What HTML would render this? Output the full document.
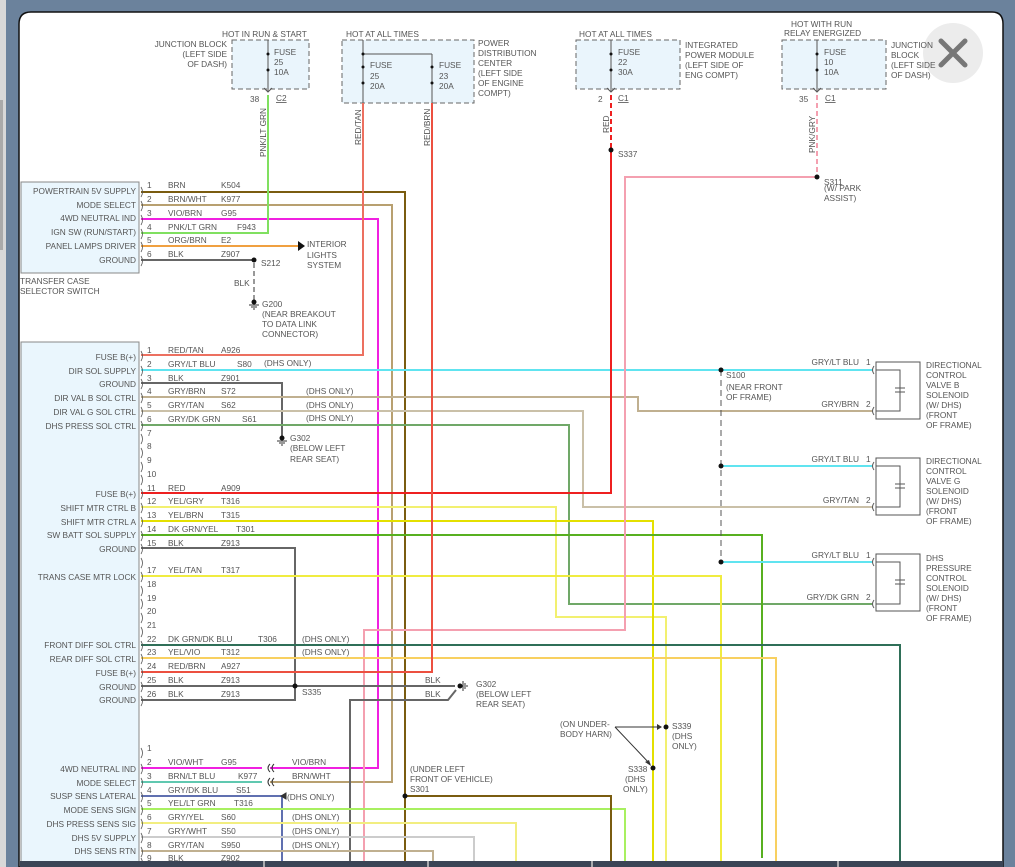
<!DOCTYPE html>
<html><head><meta charset="utf-8"><style>
html,body{margin:0;padding:0;width:1015px;height:867px;overflow:hidden;background:#6b829c}
svg{display:block}
text{font-family:"Liberation Sans",sans-serif;font-size:8.3px;fill:#555}
.w{fill:none;stroke-width:2}
</style></head><body>
<svg width="1015" height="867" viewBox="0 0 1015 867">
<rect x="0" y="0" width="1015" height="867" fill="#6b829c"/>
<rect x="0" y="0" width="6" height="867" fill="#d8d8d8"/>
<rect x="0" y="100" width="3" height="150" fill="#aaa"/>
<path d="M19 867 V24 Q19 12 31 12 H992 Q1003 12 1003 24 V867 Z" fill="#fff" stroke="#111" stroke-width="1.5"/>
<circle cx="953" cy="53" r="30" fill="#ececec"/>
<path d="M941 41 L965 65 M965 41 L941 65" stroke="#777" stroke-width="5" stroke-linecap="round"/>

<!-- fuse boxes -->
<g fill="#eaf5fc" stroke="#666" stroke-dasharray="5,3" stroke-width="1">
<rect x="232" y="40" width="77" height="49"/>
<rect x="342" y="40" width="132" height="63"/>
<rect x="576" y="40" width="104" height="49"/>
<rect x="782" y="40" width="104" height="49"/>
</g>
<g stroke="#555" fill="none" stroke-width="1">
<path d="M268 40 V92 M363 40 V103 M432 54 V103 M363 54 H432 M611 40 V92 M817 40 V92"/>
<path d="M264 88 l4 4 4-4 M607 88 l4 4 4-4 M813 88 l4 4 4-4"/>
</g>
<g fill="#111"><circle cx="268" cy="54" r="1.5"/><circle cx="268" cy="70" r="1.5"/><circle cx="363" cy="54" r="1.5"/><circle cx="363" cy="67" r="1.5"/><circle cx="363" cy="83" r="1.5"/><circle cx="432" cy="67" r="1.5"/><circle cx="432" cy="83" r="1.5"/><circle cx="611" cy="54" r="1.5"/><circle cx="611" cy="70" r="1.5"/><circle cx="817" cy="54" r="1.5"/><circle cx="817" cy="70" r="1.5"/></g>
<text x="222" y="37">HOT IN RUN &amp; START</text>
<text x="227" y="47" text-anchor="end">JUNCTION BLOCK</text><text x="227" y="57" text-anchor="end">(LEFT SIDE</text><text x="227" y="67" text-anchor="end">OF DASH)</text>
<text x="274" y="55">FUSE</text><text x="274" y="65">25</text><text x="274" y="75">10A</text>
<text x="250" y="102">38</text><text x="276" y="101" text-decoration="underline">C2</text>
<text x="346" y="37">HOT AT ALL TIMES</text>
<text x="370" y="68">FUSE</text><text x="370" y="79">25</text><text x="370" y="89">20A</text>
<text x="439" y="68">FUSE</text><text x="439" y="79">23</text><text x="439" y="89">20A</text>
<text x="478" y="46">POWER</text><text x="478" y="56">DISTRIBUTION</text><text x="478" y="66">CENTER</text><text x="478" y="76">(LEFT SIDE</text><text x="478" y="86">OF ENGINE</text><text x="478" y="96">COMPT)</text>
<text x="579" y="37">HOT AT ALL TIMES</text>
<text x="618" y="55">FUSE</text><text x="618" y="65">22</text><text x="618" y="75">30A</text>
<text x="685" y="48">INTEGRATED</text><text x="685" y="58">POWER MODULE</text><text x="685" y="68">(LEFT SIDE OF</text><text x="685" y="78">ENG COMPT)</text>
<text x="598" y="102">2</text><text x="618" y="101" text-decoration="underline">C1</text>
<text x="791" y="27">HOT WITH RUN</text><text x="784" y="36">RELAY ENERGIZED</text>
<text x="824" y="55">FUSE</text><text x="824" y="65">10</text><text x="824" y="75">10A</text>
<text x="891" y="48">JUNCTION</text><text x="891" y="58">BLOCK</text><text x="891" y="68">(LEFT SIDE</text><text x="891" y="78">OF DASH)</text>
<text x="799" y="102">35</text><text x="825" y="101" text-decoration="underline">C1</text>
<text transform="translate(266,157) rotate(-90)">PNK/LT GRN</text>
<text transform="translate(361,145) rotate(-90)">RED/TAN</text>
<text transform="translate(430,146) rotate(-90)">RED/BRN</text>
<text transform="translate(609,133) rotate(-90)">RED</text>
<text transform="translate(815,153) rotate(-90)">PNK/GRY</text>

<!-- connector boxes -->
<rect x="21" y="182" width="118" height="91" fill="#eaf6fd" stroke="#888"/>
<rect x="21" y="342" width="118" height="530" fill="#eaf6fd" stroke="#888"/>

<!-- wires -->
<g class="w">
<path d="M611 95 V150" stroke="#ee2020" stroke-dasharray="5,3"/>
<path d="M817 95 V177" stroke="#f4a0b0" stroke-dasharray="5,3"/>
<path d="M141 192 H405 V867" stroke="#7a5c10"/>
<path d="M141 205 H392 V782 H270" stroke="#b8a070"/>
<path d="M141 219 H378 V768 H270" stroke="#f020e0"/>
<path d="M141 233 H268 V95" stroke="#80e060"/>
<path d="M141 246 H298" stroke="#f0a040"/>
<path d="M141 260 H253" stroke="#666"/>
<path d="M141 355 H363 V103" stroke="#ec7060"/>
<path d="M141 370 H872" stroke="#60e4f0"/>
<path d="M141 383 H282 V437" stroke="#666"/>
<path d="M141 397 H638 V411 H872" stroke="#c0b090"/>
<path d="M141 411 H583 V507 H872" stroke="#cac0a8"/>
<path d="M141 425 H569 V604 H872" stroke="#70a868"/>
<path d="M141 493 H611 V150" stroke="#ee2020"/>
<path d="M141 507 H556 V617 H666 V867" stroke="#f2f070"/>
<path d="M141 521 H653 V867" stroke="#e4e000"/>
<path d="M141 535 H762 V858" stroke="#58b020"/>
<path d="M141 548 H295 V700 H141" stroke="#666"/>
<path d="M141 576 H721 V867" stroke="#f0ec40"/>
<path d="M817 177 H625 V630 H364 V867" stroke="#f4a0b0"/>
<path d="M141 645 H900 V867" stroke="#2f6f58"/>
<path d="M141 658 H776 V867" stroke="#f8d060"/>
<path d="M141 672 H432 V103" stroke="#ec5040"/>
<path d="M141 686 H455" stroke="#666"/>
<path d="M350 867 V700 H448 L456 690" stroke="#666"/>
<path d="M721 466 H872 M721 562 H872" stroke="#60e4f0"/>
<path d="M141 768 H262" stroke="#f020e0"/>
<path d="M141 782 H262" stroke="#60c8b0"/>
<path d="M141 796 H282 V867" stroke="#6070b0"/>
<path d="M141 809 H625 V867" stroke="#a8f060"/>
<path d="M141 823 H516 V867" stroke="#f2ee80"/>
<path d="M141 837 H474 V867" stroke="#cccccc"/>
<path d="M141 851 H433 V867" stroke="#c0b090"/>
<path d="M141 862 H220" stroke="#666"/>
<path d="M405 796 H611 V867" stroke="#7a5c10"/>
</g>
<path d="M254 263 V300" stroke="#333" stroke-dasharray="5,3" fill="none"/>
<path d="M721 370 V562" stroke="#555" stroke-dasharray="6,4" fill="none"/>
<path d="M298 241 L305 246 298 251Z" fill="#111"/>
<g fill="#111">
<circle cx="254" cy="260" r="2.5"/><circle cx="611" cy="150" r="2.5"/><circle cx="817" cy="177" r="2.5"/>
<circle cx="721" cy="370" r="2.5"/><circle cx="721" cy="466" r="2.5"/><circle cx="721" cy="562" r="2.5"/>
<circle cx="295" cy="686" r="2.5"/><circle cx="405" cy="796" r="2.5"/><circle cx="666" cy="727" r="2.5"/><circle cx="653" cy="768" r="2.5"/>
<circle cx="254" cy="302" r="2.5"/><circle cx="282" cy="438" r="2.5"/><circle cx="460" cy="686" r="2.5"/>
</g>
<g stroke="#333" fill="none">
<path d="M249 305 H259 M251 307 H257 M253 309 H255"/>
<path d="M277 441 H287 M279 443 H285 M281 445 H283"/>
<path d="M463 681 V691 M465 683 V689 M467 685 V687"/>
<path d="M615 727 H661 M615 727 L650 764"/>
<path d="M281 796 l5 -3 v6z" fill="#333"/>
<path d="M270 764 q-4 4 0 8 M274 764 q-4 4 0 8 M270 778 q-4 4 0 8 M274 778 q-4 4 0 8"/>
</g>
<path d="M657 724 l5 3 -5 3z M645 762 l6 4 -2 -6z" fill="#333"/>

<!-- solenoids -->
<g stroke="#555" fill="none">
<rect x="876" y="362" width="44" height="57"/><rect x="876" y="458" width="44" height="57"/><rect x="876" y="554" width="44" height="57"/>
<path d="M876 370 H900 V411 H876 M895 388 H905 M895 392 H905"/>
<path d="M876 466 H900 V507 H876 M895 484 H905 M895 488 H905"/>
<path d="M876 562 H900 V604 H876 M895 580 H905 M895 584 H905"/>
<path d="M874 366 q-3 4 0 8 M874 407 q-3 4 0 8 M874 462 q-3 4 0 8 M874 503 q-3 4 0 8 M874 558 q-3 4 0 8 M874 600 q-3 4 0 8"/>
</g>
<text x="859" y="365" text-anchor="end">GRY/LT BLU</text><text x="866" y="365">1</text>
<text x="859" y="407" text-anchor="end">GRY/BRN</text><text x="866" y="407">2</text>
<text x="859" y="462" text-anchor="end">GRY/LT BLU</text><text x="866" y="462">1</text>
<text x="859" y="503" text-anchor="end">GRY/TAN</text><text x="866" y="503">2</text>
<text x="859" y="558" text-anchor="end">GRY/LT BLU</text><text x="866" y="558">1</text>
<text x="859" y="600" text-anchor="end">GRY/DK GRN</text><text x="866" y="600">2</text>
<g><text x="926" y="368">DIRECTIONAL</text><text x="926" y="378">CONTROL</text><text x="926" y="388">VALVE B</text><text x="926" y="398">SOLENOID</text><text x="926" y="408">(W/ DHS)</text><text x="926" y="418">(FRONT</text><text x="926" y="428">OF FRAME)</text>
<text x="926" y="464">DIRECTIONAL</text><text x="926" y="474">CONTROL</text><text x="926" y="484">VALVE G</text><text x="926" y="494">SOLENOID</text><text x="926" y="504">(W/ DHS)</text><text x="926" y="514">(FRONT</text><text x="926" y="524">OF FRAME)</text>
<text x="926" y="561">DHS</text><text x="926" y="571">PRESSURE</text><text x="926" y="581">CONTROL</text><text x="926" y="591">SOLENOID</text><text x="926" y="601">(W/ DHS)</text><text x="926" y="611">(FRONT</text><text x="926" y="621">OF FRAME)</text></g>

<!-- splice labels -->
<text x="261" y="266">S212</text><text x="234" y="286">BLK</text>
<text x="262" y="307">G200</text><text x="262" y="317">(NEAR BREAKOUT</text><text x="262" y="327">TO DATA LINK</text><text x="262" y="337">CONNECTOR)</text>
<text x="307" y="247">INTERIOR</text><text x="307" y="258">LIGHTS</text><text x="307" y="268">SYSTEM</text>
<text x="20" y="284">TRANSFER CASE</text><text x="20" y="294">SELECTOR SWITCH</text>
<text x="618" y="157">S337</text>
<text x="824" y="185">S311</text><text x="824" y="191">(W/ PARK</text><text x="824" y="201">ASSIST)</text>
<text x="726" y="378">S100</text><text x="726" y="390">(NEAR FRONT</text><text x="726" y="400">OF FRAME)</text>
<text x="290" y="441">G302</text><text x="290" y="451">(BELOW LEFT</text><text x="290" y="462">REAR SEAT)</text>
<text x="302" y="695">S335</text>
<text x="425" y="683">BLK</text><text x="425" y="697">BLK</text>
<text x="476" y="687">G302</text><text x="476" y="697">(BELOW LEFT</text><text x="476" y="707">REAR SEAT)</text>
<text x="560" y="727">(ON UNDER-</text><text x="560" y="737">BODY HARN)</text>
<text x="672" y="729">S339</text><text x="672" y="739">(DHS</text><text x="672" y="749">ONLY)</text>
<text x="628" y="772">S338</text><text x="625" y="782">(DHS</text><text x="623" y="792">ONLY)</text>
<text x="410" y="772">(UNDER LEFT</text><text x="410" y="782">FRONT OF VEHICLE)</text><text x="410" y="792">S301</text>

<!-- connector 1 rows -->
<g>
<text x="136" y="194" text-anchor="end">POWERTRAIN 5V SUPPLY</text><text x="136" y="208" text-anchor="end">MODE SELECT</text><text x="136" y="221" text-anchor="end">4WD NEUTRAL IND</text><text x="136" y="235" text-anchor="end">IGN SW (RUN/START)</text><text x="136" y="249" text-anchor="end">PANEL LAMPS DRIVER</text><text x="136" y="263" text-anchor="end">GROUND</text>
<text x="147" y="188">1</text><text x="168" y="188">BRN</text><text x="221" y="188">K504</text>
<text x="147" y="202">2</text><text x="168" y="202">BRN/WHT</text><text x="221" y="202">K977</text>
<text x="147" y="216">3</text><text x="168" y="216">VIO/BRN</text><text x="221" y="216">G95</text>
<text x="147" y="230">4</text><text x="168" y="230">PNK/LT GRN</text><text x="237" y="230">F943</text>
<text x="147" y="243">5</text><text x="168" y="243">ORG/BRN</text><text x="221" y="243">E2</text>
<text x="147" y="257">6</text><text x="168" y="257">BLK</text><text x="221" y="257">Z907</text>
</g>
<!-- connector 2 rows -->
<g>
<text x="136" y="360" text-anchor="end">FUSE B(+)</text><text x="136" y="374" text-anchor="end">DIR SOL SUPPLY</text><text x="136" y="387" text-anchor="end">GROUND</text><text x="136" y="401" text-anchor="end">DIR VAL B SOL CTRL</text><text x="136" y="415" text-anchor="end">DIR VAL G SOL CTRL</text><text x="136" y="429" text-anchor="end">DHS PRESS SOL CTRL</text>
<text x="136" y="497" text-anchor="end">FUSE B(+)</text><text x="136" y="511" text-anchor="end">SHIFT MTR CTRL B</text><text x="136" y="525" text-anchor="end">SHIFT MTR CTRL A</text><text x="136" y="538" text-anchor="end">SW BATT SOL SUPPLY</text><text x="136" y="552" text-anchor="end">GROUND</text><text x="136" y="580" text-anchor="end">TRANS CASE MTR LOCK</text>
<text x="136" y="648" text-anchor="end">FRONT DIFF SOL CTRL</text><text x="136" y="662" text-anchor="end">REAR DIFF SOL CTRL</text><text x="136" y="676" text-anchor="end">FUSE B(+)</text><text x="136" y="690" text-anchor="end">GROUND</text><text x="136" y="703" text-anchor="end">GROUND</text>
<text x="147" y="353">1</text><text x="168" y="353">RED/TAN</text><text x="221" y="353">A926</text>
<text x="147" y="367">2</text><text x="168" y="367">GRY/LT BLU</text><text x="237" y="367">S80</text><text x="264" y="366">(DHS ONLY)</text>
<text x="147" y="381">3</text><text x="168" y="381">BLK</text><text x="221" y="381">Z901</text>
<text x="147" y="394">4</text><text x="168" y="394">GRY/BRN</text><text x="221" y="394">S72</text><text x="306" y="394">(DHS ONLY)</text>
<text x="147" y="408">5</text><text x="168" y="408">GRY/TAN</text><text x="221" y="408">S62</text><text x="306" y="408">(DHS ONLY)</text>
<text x="147" y="422">6</text><text x="168" y="422">GRY/DK GRN</text><text x="242" y="422">S61</text><text x="306" y="421">(DHS ONLY)</text>
<text x="147" y="436">7</text><text x="147" y="449">8</text><text x="147" y="463">9</text><text x="147" y="477">10</text>
<text x="147" y="491">11</text><text x="168" y="491">RED</text><text x="221" y="491">A909</text>
<text x="147" y="504">12</text><text x="168" y="504">YEL/GRY</text><text x="221" y="504">T316</text>
<text x="147" y="518">13</text><text x="168" y="518">YEL/BRN</text><text x="221" y="518">T315</text>
<text x="147" y="532">14</text><text x="168" y="532">DK GRN/YEL</text><text x="236" y="532">T301</text>
<text x="147" y="546">15</text><text x="168" y="546">BLK</text><text x="221" y="546">Z913</text>
<text x="147" y="573">17</text><text x="168" y="573">YEL/TAN</text><text x="221" y="573">T317</text>
<text x="147" y="587">18</text><text x="147" y="601">19</text><text x="147" y="614">20</text><text x="147" y="628">21</text>
<text x="147" y="642">22</text><text x="168" y="642">DK GRN/DK BLU</text><text x="258" y="642">T306</text><text x="302" y="642">(DHS ONLY)</text>
<text x="147" y="655">23</text><text x="168" y="655">YEL/VIO</text><text x="221" y="655">T312</text><text x="302" y="655">(DHS ONLY)</text>
<text x="147" y="669">24</text><text x="168" y="669">RED/BRN</text><text x="221" y="669">A927</text>
<text x="147" y="683">25</text><text x="168" y="683">BLK</text><text x="221" y="683">Z913</text>
<text x="147" y="697">26</text><text x="168" y="697">BLK</text><text x="221" y="697">Z913</text>
<text x="136" y="772" text-anchor="end">4WD NEUTRAL IND</text><text x="136" y="786" text-anchor="end">MODE SELECT</text><text x="136" y="799" text-anchor="end">SUSP SENS LATERAL</text><text x="136" y="813" text-anchor="end">MODE SENS SIGN</text><text x="136" y="827" text-anchor="end">DHS PRESS SENS SIG</text><text x="136" y="841" text-anchor="end">DHS 5V SUPPLY</text><text x="136" y="854" text-anchor="end">DHS SENS RTN</text>
<text x="147" y="751">1</text>
<text x="147" y="765">2</text><text x="168" y="765">VIO/WHT</text><text x="221" y="765">G95</text><text x="292" y="765">VIO/BRN</text>
<text x="147" y="779">3</text><text x="168" y="779">BRN/LT BLU</text><text x="238" y="779">K977</text><text x="292" y="779">BRN/WHT</text>
<text x="147" y="793">4</text><text x="168" y="793">GRY/DK BLU</text><text x="236" y="793">S51</text><text x="287" y="800">(DHS ONLY)</text>
<text x="147" y="806">5</text><text x="168" y="806">YEL/LT GRN</text><text x="234" y="806">T316</text>
<text x="147" y="820">6</text><text x="168" y="820">GRY/YEL</text><text x="221" y="820">S60</text><text x="292" y="820">(DHS ONLY)</text>
<text x="147" y="834">7</text><text x="168" y="834">GRY/WHT</text><text x="221" y="834">S50</text><text x="292" y="834">(DHS ONLY)</text>
<text x="147" y="848">8</text><text x="168" y="848">GRY/TAN</text><text x="221" y="848">S950</text><text x="292" y="848">(DHS ONLY)</text>
<text x="147" y="861">9</text><text x="168" y="861">BLK</text><text x="221" y="861">Z902</text>
</g>
<g stroke="#555" fill="none" stroke-width="0.8">
<path d="M141 187 q3 5 0 10 M141 201 q3 5 0 10 M141 215 q3 5 0 10 M141 229 q3 5 0 10 M141 242 q3 5 0 10 M141 256 q3 5 0 10"/>
<path d="M141 351 q3 5 0 10 M141 366 q3 5 0 10 M141 379 q3 5 0 10 M141 393 q3 5 0 10 M141 407 q3 5 0 10 M141 421 q3 5 0 10 M141 434 q3 5 0 10 M141 448 q3 5 0 10 M141 462 q3 5 0 10 M141 475 q3 5 0 10 M141 489 q3 5 0 10 M141 503 q3 5 0 10 M141 517 q3 5 0 10 M141 531 q3 5 0 10 M141 544 q3 5 0 10 M141 558 q3 5 0 10 M141 572 q3 5 0 10 M141 586 q3 5 0 10 M141 599 q3 5 0 10 M141 613 q3 5 0 10 M141 627 q3 5 0 10 M141 641 q3 5 0 10 M141 654 q3 5 0 10 M141 668 q3 5 0 10 M141 682 q3 5 0 10 M141 696 q3 5 0 10"/>
<path d="M141 748 q3 5 0 10 M141 764 q3 5 0 10 M141 778 q3 5 0 10 M141 792 q3 5 0 10 M141 805 q3 5 0 10 M141 819 q3 5 0 10 M141 833 q3 5 0 10 M141 847 q3 5 0 10 M141 858 q3 5 0 10"/>
</g>
<rect x="20" y="861" width="983" height="6" fill="#3b4556"/>
<path d="M264 861 V867 M428 861 V867 M592 861 V867 M838 861 V867" stroke="#ccc" stroke-width="1.5"/>
</svg>
</body></html>
